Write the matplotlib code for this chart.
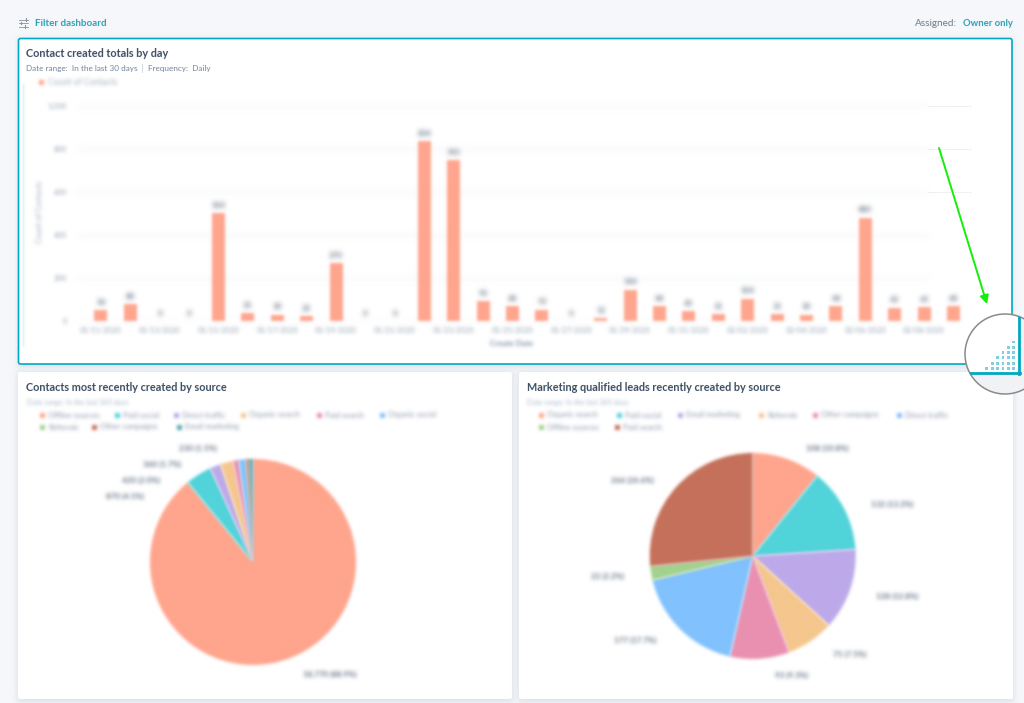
import numpy as np
import matplotlib
matplotlib.use("Agg")
import matplotlib.pyplot as plt
from matplotlib.patches import FancyBboxPatch, Circle, Rectangle, FancyArrowPatch

plt.rcParams['font.family'] = ['Lato', 'DejaVu Sans']

# Bar chart data
day_values = [50, 80, 0, 0, 500, 35, 30, 22, 270, 0, 0, 834, 745, 93, 68,
              53, 0, 12, 146, 68, 45, 31, 104, 31, 30, 68, 480, 62, 65, 68]
day_labels = ["01/11/2020", "01/13/2020", "01/15/2020", "01/17/2020", "01/19/2020",
              "01/21/2020", "01/23/2020", "01/25/2020", "01/27/2020", "01/29/2020",
              "01/31/2020", "02/02/2020", "02/04/2020", "02/06/2020", "02/08/2020"]
y_ticks = [0, 200, 400, 600, 800, 1000]
y_tick_labels = ["0", "200", "400", "600", "800", "1,000"]

# Pie data, clockwise from 12 o'clock
left_sources = ["Offline sources", "Paid social", "Direct traffic", "Organic search", "Paid search",
                "Organic social", "Referrals", "Other campaigns", "Email marketing"]
left_shares = [88.9, 4.1, 1.7, 2.0, 0.9, 1.1, 0.1, 0.4, 0.6]
left_colors = ["#ffa58d", "#51d3d9", "#bda9ea", "#f5c78e", "#ea90b1", "#81c1fd", "#a2d28f", "#c5705a", "#59a6b0"]
left_labels = ["18,770 (88.9%)", "870 (4.1%)", "420 (2.0%)", "360 (1.7%)", "230 (1.1%)"]

right_sources = ["Organic search", "Paid social", "Email marketing", "Referrals", "Other campaigns",
                 "Direct traffic", "Offline sources", "Paid search"]
right_shares = [10.8, 13.2, 12.8, 7.5, 9.3, 17.7, 2.2, 26.6]
right_colors = ["#ffa58d", "#51d3d9", "#bda9ea", "#f5c78e", "#ea90b1", "#81c1fd", "#a2d28f", "#c5705a"]
right_labels = ["108 (10.8%)", "132 (13.2%)", "128 (12.8%)", "75 (7.5%)",
                "93 (9.3%)", "177 (17.7%)", "22 (2.2%)", "266 (26.6%)"]

# Pixel positions of the hand placed things
left_label_xy = [(330, 674), (125, 496), (141, 480), (162, 464), (198, 448)]
right_label_xy = [(827, 448), (892, 504), (897, 596), (850, 654), (792, 675), (635, 640), (608, 576), (632, 480)]
left_legend_x = [42, 117, 176, 243, 319, 382, 42, 94, 179]
right_legend_x = [541, 619, 680, 761, 815, 899, 541, 617]

TEAL = "#00a9c1"
LINK = "#2a9fb5"
NAVY = "#3b4d63"
SLATE = "#6f8199"
W, H = 1024, 703


def blur(sigma):
    # gaussian blur for set_agg_filter, works on premultiplied alpha
    def _filter(im, dpi):
        pad = int(sigma * 3) + 2
        out = np.pad(im, ((pad, pad), (pad, pad), (0, 0)))
        out[..., :3] *= out[..., 3:]
        offs = np.arange(-pad, pad + 1)
        wts = np.exp(-offs ** 2 / (2 * sigma ** 2))
        wts /= wts.sum()
        for axis in (0, 1):
            out = sum(w * np.roll(out, k, axis=axis) for k, w in zip(offs, wts))
        a = np.clip(out[..., 3:], 1e-4, 1)
        out[..., :3] = np.clip(out[..., :3] / a, 0, 1)
        return out, -pad, -pad
    return _filter


def px_axes(z):
    ax = fig.add_axes([0, 0, 1, 1], zorder=z)
    ax.set_xlim(0, W)
    ax.set_ylim(H, 0)
    ax.set_axis_off()
    return ax


def card(ax, x0, y0, x1, y1, edge=None, lw=0):
    shadow = Rectangle((x0 - 1, y0), x1 - x0 + 2, y1 - y0 + 3, fc="#dde1e8", ec="none")
    shadow.set_agg_filter(blur(3))
    ax.add_patch(shadow)
    ax.add_patch(FancyBboxPatch((x0, y0), x1 - x0, y1 - y0, boxstyle="round,pad=0,rounding_size=2",
                                fc="white", ec=edge if edge else "white", lw=lw))


def soft_text(ax, x, y, s, sigma=1.9, **kw):
    kw.setdefault("va", "center")
    t = ax.text(x, y, s, **kw)
    t.set_agg_filter(blur(sigma))
    return t


def legend_rows(ax, names, colors, xs):
    for i, (name, c, x) in enumerate(zip(names, colors, xs)):
        y = 415 if i < 6 else 427
        dot = Rectangle((x - 2.5, y - 2.5), 5, 5, fc=c, ec="none")
        dot.set_agg_filter(blur(1.6))
        ax.add_patch(dot)
        soft_text(ax, x + 6, y, name, fontsize=5.6, color="#8391a5")


fig = plt.figure(figsize=(W / 100, H / 100), dpi=100, facecolor="#f5f7fa")
bg = px_axes(0)

card(bg, 18.5, 38.5, 1012, 364, edge=TEAL, lw=1.2)
card(bg, 18, 372, 512, 699)
card(bg, 519, 372, 1013, 699)

# Header
for y, kx in zip((19.5, 23, 26.5), (26, 21, 25)):
    bg.plot([19, 28], [y, y], color="#8593a5", lw=0.6)
    bg.plot([kx, kx], [y - 1.2, y + 1.2], color="#8593a5", lw=0.8)
soft_text(bg, 35, 23.5, "Filter dashboard", 0.35, fontsize=7, color=LINK, fontweight="bold")
soft_text(bg, 915, 23.5, "Assigned:", 0.35, fontsize=7.2, color="#6b7a8c")
soft_text(bg, 963, 23.5, "Owner only", 0.35, fontsize=6.8, color=LINK, fontweight="bold")

# Card headings
soft_text(bg, 26.5, 53.5, "Contact created totals by day", 0.35, fontsize=7.8, color=NAVY, fontweight="bold")
soft_text(bg, 26.5, 68.5, "Date range:  In the last 30 days", 0.35, fontsize=5.9, color=SLATE)
soft_text(bg, 147.5, 68.5, "Frequency:  Daily", 0.35, fontsize=5.9, color=SLATE)
bg.plot([141.5, 141.5], [64, 72], color="#d5dbe3", lw=0.7)
soft_text(bg, 26.5, 387.5, "Contacts most recently created by source", 0.35, fontsize=7.8, color=NAVY, fontweight="bold")
soft_text(bg, 527, 387.5, "Marketing qualified leads recently created by source", 0.35, fontsize=7.8, color=NAVY, fontweight="bold")
soft_text(bg, 27, 402, "Date range: In the last 365 days", 1.7, fontsize=5.2, color="#a9b7c9")
soft_text(bg, 527, 402, "Date range: In the last 365 days", 1.7, fontsize=5.2, color="#a9b7c9")

# Faint edge left by the blurred region
edge = bg.plot([22.5, 22.5], [84, 346], color="#d4eef4", lw=1)[0]
edge.set_agg_filter(blur(0.8))

# Bar chart legend and axis titles
dot = Rectangle((39, 80), 5, 5, fc="#ffa58d", ec="none")
dot.set_agg_filter(blur(1.6))
bg.add_patch(dot)
soft_text(bg, 48, 82.5, "Count of Contacts", fontsize=6.2, color="#a5afbd")
soft_text(bg, 40, 212, "Count of Contacts", fontsize=5.6, color="#9aa6b6", rotation=90, ha="center")
soft_text(bg, 512, 343, "Create Date", fontsize=5.8, color="#7f8da1", ha="center", fontweight="bold")

# Bar chart
ax = fig.add_axes([78 / W, 1 - 321 / H, 894 / W, 215.5 / H], zorder=1)
ax.patch.set_alpha(0)
x = np.arange(len(day_values))
bars = ax.bar(x, day_values, width=0.44, color="#ffa58d")
for b in bars:
    b.set_agg_filter(blur(1.5))
ax.set_xlim(-0.78, 29.63)
ax.set_ylim(0, 1000)
ax.set_yticks(y_ticks, labels=y_tick_labels)
ax.set_xticks(x[::2], labels=day_labels)
ax.tick_params(length=0, pad=4, labelsize=5.4, labelcolor="#98a5b6")
ax.tick_params(axis="y", pad=8)
for s in ax.spines.values():
    s.set_visible(False)
for lbl in ax.get_xticklabels() + ax.get_yticklabels():
    lbl.set_agg_filter(blur(1.7))
for v in y_ticks:
    g = ax.plot([0, 0.95], [v, v], transform=ax.get_yaxis_transform(), color="#f0f2f5", lw=1, zorder=0)[0]
    g.set_agg_filter(blur(2.5))
for v in y_ticks[3:]:
    ax.plot([0.951, 1], [v, v], transform=ax.get_yaxis_transform(), color="#e6e9f0", lw=0.7, ls=(0, (2, 1)), zorder=0)
for t in ax.bar_label(bars, fmt="%d", padding=3, fontsize=5.8, color="#667487", fontweight="bold"):
    t.set_agg_filter(blur(1.7))

# Pies
for center, shares, colors in ((253, left_shares, left_colors), (752.7, right_shares, right_colors)):
    cy = 562 if center < 500 else 556
    pax = fig.add_axes([(center - 103) / W, 1 - (cy + 103) / H, 206 / W, 206 / H], zorder=1)
    wedges, _ = pax.pie(shares, colors=colors, startangle=90, counterclock=False, radius=1,
                        wedgeprops=dict(edgecolor="none"))
    pax.set_xlim(-1, 1)
    pax.set_ylim(-1, 1)
    for w in wedges:
        w.set_agg_filter(blur(1.5))
        w.set_clip_on(False)

legend_rows(bg, left_sources, left_colors, left_legend_x)
legend_rows(bg, right_sources, right_colors, right_legend_x)
for (lx, ly), s in zip(left_label_xy, left_labels):
    soft_text(bg, lx, ly, s, fontsize=5.8, color="#667487", ha="center", fontweight="bold")
for (lx, ly), s in zip(right_label_xy, right_labels):
    soft_text(bg, lx, ly, s, fontsize=5.8, color="#667487", ha="center", fontweight="bold")

# Green arrow and the magnifier on top
top = px_axes(5)
top.add_patch(FancyArrowPatch((939, 148), (987, 304), arrowstyle="-|>,head_length=5,head_width=2.6",
                              color="#14ee0a", lw=1.4, shrinkA=0, shrinkB=0))

lens = Circle((1005, 354), 40, fc="#f0f2f5", ec="none")
top.add_patch(lens)
inner = Rectangle((960, 310), 58, 62, fc="white", ec="none")
top.add_patch(inner)
inner.set_clip_path(lens)
for seg in (([1018.5, 1018.5], [310, 373.5]), ([960, 1019.5], [372.5, 372.5])):
    ln = top.plot(seg[0], seg[1], color=TEAL, lw=2)[0]
    ln.set_clip_path(lens)
for row in range(6):
    for col in range(row, 6):
        top.add_patch(Rectangle((985.4 + 5.4 * col, 367 - 5.3 * row), 2.8, 2.8, fc="#7fd0e3", ec="none"))
top.add_patch(Circle((1005, 354), 40, fc="none", ec="#8b8b8b", lw=1.1))

fig.savefig("out.png", dpi=100, facecolor=fig.get_facecolor())
